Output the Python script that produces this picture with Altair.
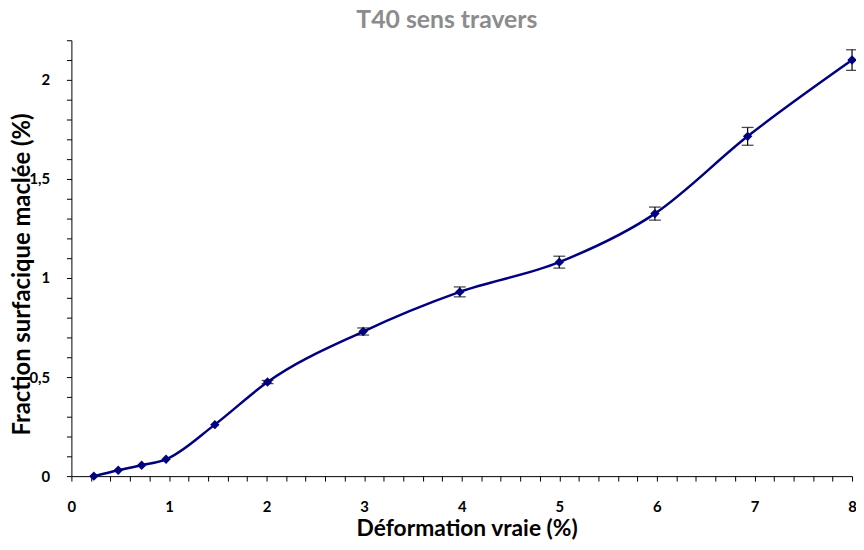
import altair as alt
import pandas as pd

deformation = [0.23, 0.48, 0.72, 0.97, 1.47, 2.01, 2.99, 3.98, 5.0, 5.98, 6.93, 8.0]
fraction = [0.0, 0.03, 0.055, 0.085, 0.26, 0.475, 0.73, 0.93, 1.08, 1.325, 1.715, 2.1]
erreur = [0.0, 0.0, 0.0, 0.0, 0.0, 0.008, 0.018, 0.025, 0.03, 0.033, 0.045, 0.052]

df = pd.DataFrame({"x": deformation, "y": fraction, "err": erreur})
df["lo"] = df["y"] - df["err"]
df["hi"] = df["y"] + df["err"]

FONT = "Lato"
NAVY = "#000080"

x_ticks = [round(i * 0.2, 1) for i in range(0, 41)]
y_ticks = [round(i * 0.1, 1) for i in range(0, 23)]

xscale = alt.Scale(domain=[0, 8], nice=False, zero=False)
yscale = alt.Scale(domain=[0, 2.2], nice=False)

xaxis = alt.Axis(
    values=x_ticks,
    labelExpr="abs(datum.value - round(datum.value)) < 0.001 ? format(datum.value, 'd') : ''",
    grid=False, tickSize=5, tickColor="black", domainColor="black",
    labelPadding=19, titlePadding=3, labelFlush=False, labelOverlap=False,
    titleFontSize=23, titleX=399,
)
yaxis = alt.Axis(
    values=y_ticks,
    labelExpr="abs(datum.value*2 - round(datum.value*2)) < 0.001 ? replace(format(datum.value, ''), '.', ',') : ''",
    grid=False, tickSize=5, tickColor="black", domainColor="black",
    labelPadding=17, labelFlush=False, labelOverlap=False,
    titleFontSize=24, titleX=-37, titleY=236,
)

YTITLE = "Fraction surfacique maclée (%)"


def Y(field):
    return alt.Y(field, scale=yscale, axis=yaxis, title=YTITLE)


X = alt.X("x:Q", scale=xscale, axis=xaxis, title="Déformation vraie (%)")

base = alt.Chart(df).encode(x=X, y=Y("y:Q"))

line = base.mark_line(interpolate="monotone", color=NAVY, strokeWidth=2.5)
pts = base.mark_point(shape="diamond", filled=True, color=NAVY, size=90, opacity=1)

ebase = base.transform_filter("datum.err > 0")
rule = ebase.mark_rule(color="black", strokeWidth=1.2).encode(y=Y("lo:Q"), y2="hi:Q")
cap_lo = ebase.mark_tick(color="black", orient="horizontal", size=12, thickness=1.3).encode(y=Y("lo:Q"))
cap_hi = ebase.mark_tick(color="black", orient="horizontal", size=12, thickness=1.3).encode(y=Y("hi:Q"))

chart = (
    alt.layer(line, rule, cap_lo, cap_hi, pts)
    .properties(
        width=788,
        height=440,
        title=alt.TitleParams("T40 sens travers", color="#8c8c8c", fontSize=25, font=FONT,
                              fontWeight="bold", anchor="middle", dx=-15, offset=0),
        autosize=alt.AutoSizeParams(type="none"),
        padding={"left": 64, "top": 30, "right": 4, "bottom": 72},
    )
    .configure_view(stroke=None)
    .configure_axis(labelFont=FONT, labelFontSize=15, labelFontWeight="bold", labelColor="black",
                    titleFont=FONT, titleFontWeight="bold", titleColor="black")
)

chart.save("out.html", embed_options={"renderer": "svg", "actions": False})
